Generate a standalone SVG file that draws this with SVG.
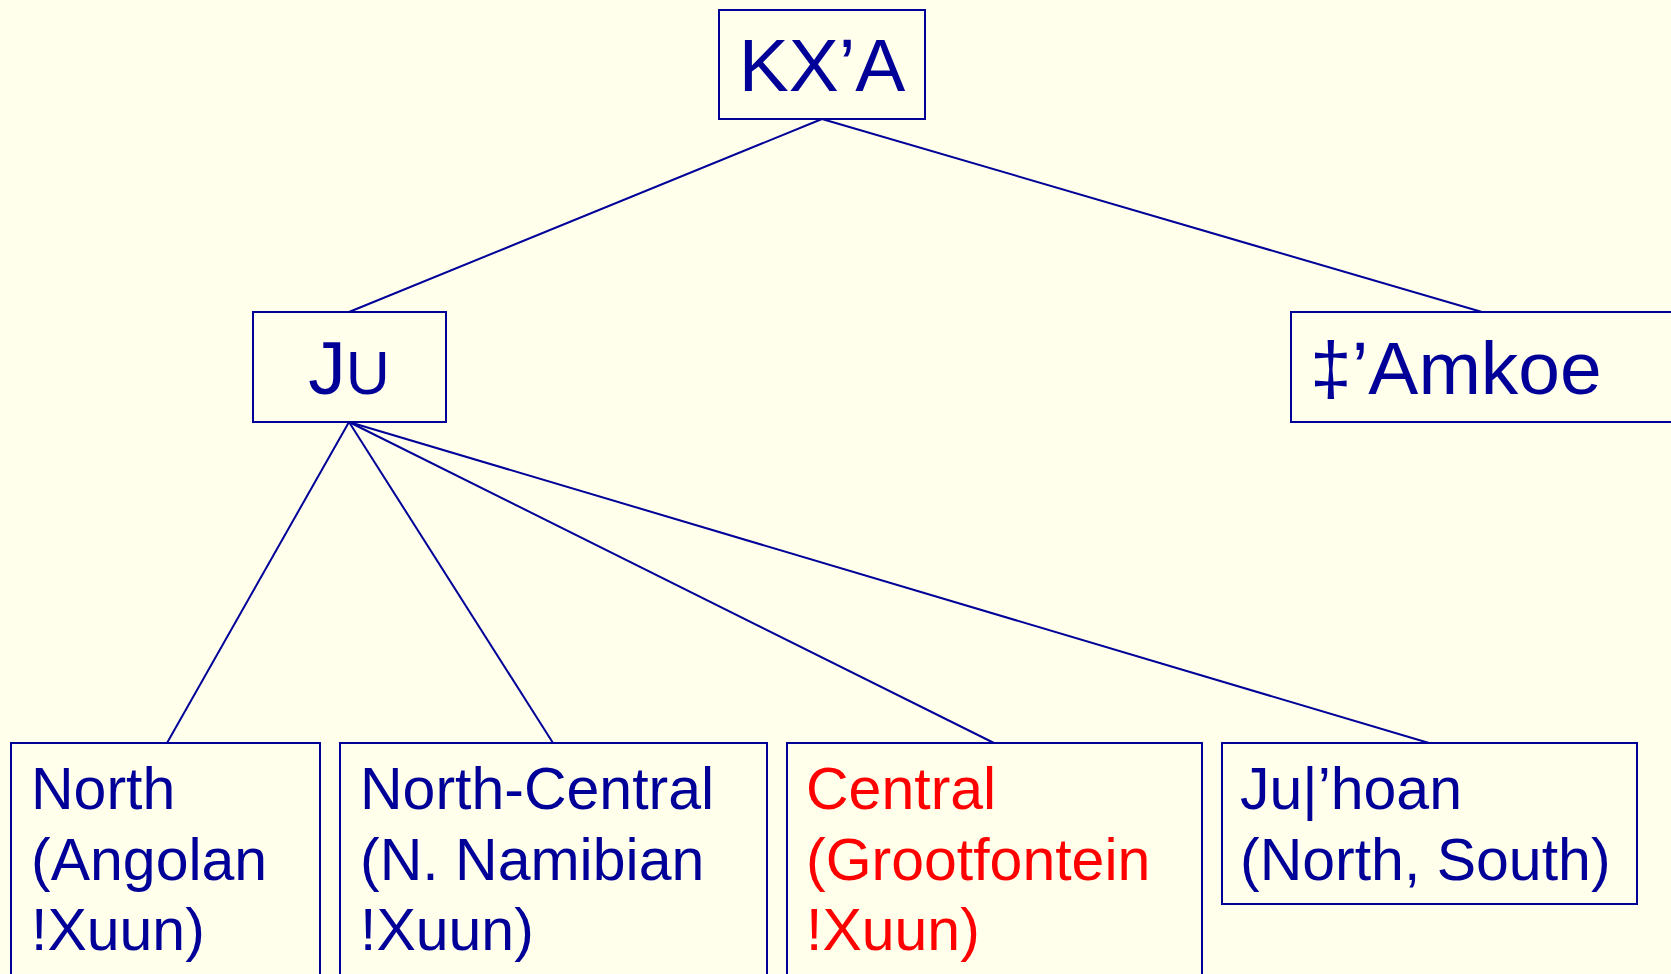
<svg xmlns="http://www.w3.org/2000/svg" width="1671" height="974" viewBox="0 0 1671 974">
<style>
.box{fill:none;stroke:#000099;stroke-width:2}
.t{font-family:"Liberation Sans",Arial,sans-serif;fill:#000099}
.big{font-size:75px}
.sm{font-size:59px}
.red{fill:#ff0000}
.conn line{stroke:#000099;stroke-width:2}
</style>
<rect width="1671" height="974" fill="#ffffec"/>
<g class="conn" id="connectors">
<line x1="822" y1="119" x2="349" y2="312"/>
<line x1="822" y1="119" x2="1482" y2="312"/>
<line x1="349" y1="422" x2="167" y2="743"/>
<line x1="349" y1="422" x2="553" y2="743"/>
<line x1="349" y1="422" x2="994" y2="743"/>
<line x1="349" y1="422" x2="1429" y2="743"/>
</g>
<g id="kxa">
<rect class="box" x="719" y="10" width="206" height="109"/>
<text class="t big" x="822" y="91" text-anchor="middle">KX’A</text>
</g>
<g id="ju">
<rect class="box" x="253" y="312" width="193" height="110"/>
<text class="t big" x="349" y="394" text-anchor="middle">J<tspan font-size="61">U</tspan></text>
</g>
<g id="amkoe">
<rect class="box" x="1291" y="312" width="383" height="110"/>
<text class="t big" x="1310" y="394">‡’Amkoe</text>
</g>
<g id="north">
<rect class="box" x="11" y="743" width="309" height="240"/>
<text class="t sm" x="31" y="809">North<tspan x="31" y="880">(Angolan</tspan><tspan x="31" y="950">!Xuun)</tspan></text>
</g>
<g id="north-central">
<rect class="box" x="340" y="743" width="427" height="240"/>
<text class="t sm" x="360" y="809">North-Central<tspan x="360" y="880">(N. Namibian</tspan><tspan x="360" y="950">!Xuun)</tspan></text>
</g>
<g id="central">
<rect class="box" x="787" y="743" width="415" height="240"/>
<text class="t sm red" x="806" y="809">Central<tspan x="806" y="880">(Grootfontein</tspan><tspan x="806" y="950">!Xuun)</tspan></text>
</g>
<g id="juhoan">
<rect class="box" x="1222" y="743" width="415" height="161"/>
<text class="t sm" x="1240" y="809">Ju|’hoan<tspan x="1240" y="880">(North, South)</tspan></text>
</g>
</svg>
